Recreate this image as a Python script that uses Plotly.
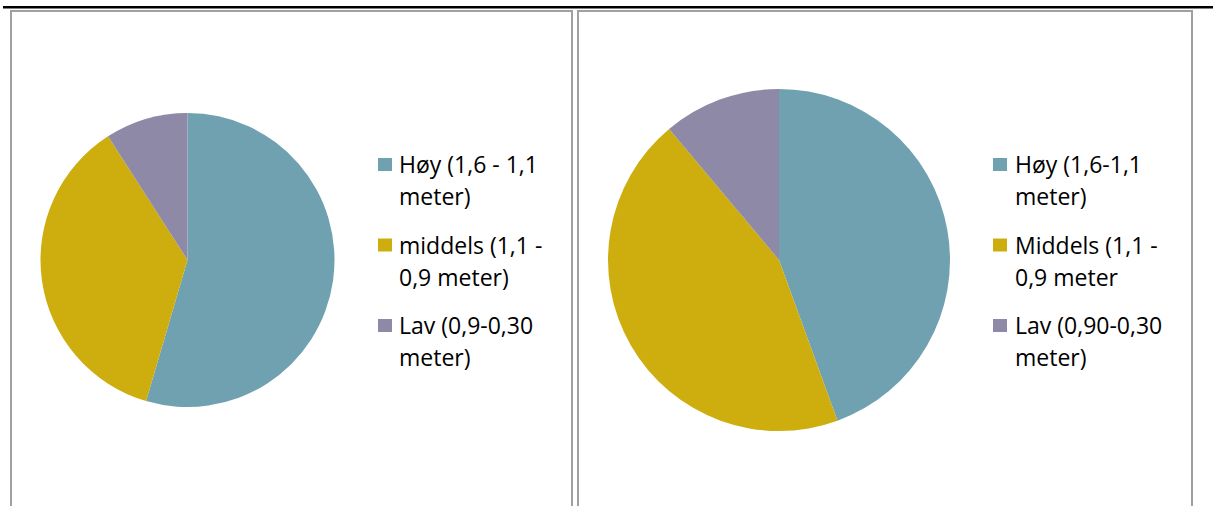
import plotly.graph_objects as go

# Height classes and their counts for the two charts
labels_left = ["Høy (1,6 - 1,1<br>meter)", "middels (1,1 -<br>0,9 meter)", "Lav (0,9-0,30<br>meter)"]
values_left = [6, 4, 1]

labels_right = ["Høy (1,6-1,1<br>meter)", "Middels (1,1 -<br>0,9 meter", "Lav (0,90-0,30<br>meter)"]
values_right = [4, 4, 1]

colors = ["#70A1B0", "#CDAE0E", "#8D89A6"]

W, H = 1213, 506


def px(x):
    return x / W


def py(y):
    return 1 - y / H


fig = go.Figure()

for labels, values, (x0, x1, y0, y1) in [
    (labels_left, values_left, (40.5, 334.5, 113, 407)),
    (labels_right, values_right, (608, 950, 89, 431)),
]:
    fig.add_trace(go.Pie(
        labels=labels,
        values=values,
        sort=False,
        direction="clockwise",
        rotation=0,
        textinfo="none",
        hoverinfo="label+value+percent",
        marker=dict(colors=colors, line=dict(width=0)),
        domain=dict(x=[px(x0), px(x1)], y=[py(y1), py(y0)]),
        showlegend=False,
    ))

shapes = []
annotations = []

# Table frame: heavy top rule and grey cell borders
shapes.append(dict(type="rect", xref="paper", yref="paper",
                   x0=px(3), x1=px(1213), y0=py(8.5), y1=py(6),
                   fillcolor="black", line=dict(width=0)))
for cx0, cx1 in [(10, 573), (577, 1193)]:
    grey = dict(color="#A0A0A0", width=2)
    shapes.append(dict(type="line", xref="paper", yref="paper",
                       x0=px(cx0), x1=px(cx1), y0=py(11), y1=py(11), line=grey))
    shapes.append(dict(type="line", xref="paper", yref="paper",
                       x0=px(cx0 + 1), x1=px(cx0 + 1), y0=py(10), y1=py(506), line=grey))
    shapes.append(dict(type="line", xref="paper", yref="paper",
                       x0=px(cx1 - 1), x1=px(cx1 - 1), y0=py(10), y1=py(506), line=grey))

# Legends drawn beside each pie
font = dict(family="Open Sans, sans-serif", size=23, color="#000000")
for labels, sq_x, txt_x in [(labels_left, 378, 397), (labels_right, 993, 1013)]:
    for i, (lab, col) in enumerate(zip(labels, colors)):
        top = 158 + i * 80.5
        shapes.append(dict(type="rect", xref="paper", yref="paper",
                           x0=px(sq_x), x1=px(sq_x + 14), y0=py(top + 13), y1=py(top),
                           fillcolor=col, line=dict(width=0)))
        for j, line in enumerate(lab.split("<br>")):
            annotations.append(dict(
                x=px(txt_x), y=py(top + 6 + j * 32), xref="paper", yref="paper",
                text=line, showarrow=False, xanchor="left", yanchor="middle",
                font=font,
            ))

fig.update_layout(
    width=W, height=H,
    margin=dict(l=0, r=0, t=0, b=0),
    paper_bgcolor="white",
    plot_bgcolor="white",
    shapes=shapes,
    annotations=annotations,
)

fig.write_html("out.html")
